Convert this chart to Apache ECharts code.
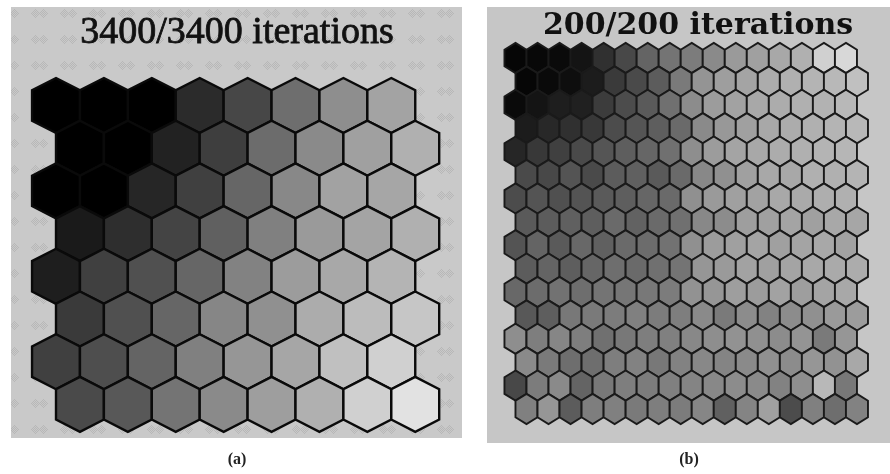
<!DOCTYPE html>
<html>
<head>
<meta charset="utf-8">
<script src="https://cdn.jsdelivr.net/npm/echarts@6/dist/echarts.min.js"></script>
<style>
  html, body { margin: 0; padding: 0; background: #ffffff; }
  #chart { width: 890px; height: 474px; }
</style>
</head>
<body>
<div id="chart"></div>
<script>
// Panel titles and captions
const titleA = '3400/3400 iterations';
const titleB = '200/200 iterations';
const captionA = '(a)';
const captionB = '(b)';

// Grey level of every map unit (0 = black, 255 = white), one list per map row, top row first.
// Odd rows sit half a unit to the right (hexagonal lattice).
const grayA = [
  [0, 0, 0, 43, 71, 110, 142, 163],
  [0, 0, 34, 62, 108, 138, 160, 176],
  [0, 0, 38, 64, 102, 136, 162, 166],
  [26, 46, 68, 96, 128, 154, 164, 176],
  [30, 64, 80, 102, 130, 156, 168, 180],
  [58, 80, 102, 134, 144, 172, 188, 198],
  [64, 78, 100, 128, 150, 166, 192, 208],
  [74, 88, 116, 138, 158, 176, 208, 226]
];

const grayB = [
  [6, 8, 10, 20, 48, 72, 100, 116, 124, 138, 154, 160, 168, 176, 208, 216],
  [6, 10, 14, 28, 58, 74, 92, 122, 148, 158, 164, 172, 176, 180, 184, 192],
  [10, 20, 30, 32, 60, 76, 90, 112, 140, 156, 162, 168, 172, 176, 178, 184],
  [28, 40, 48, 56, 76, 85, 94, 106, 138, 152, 160, 168, 172, 176, 180, 184],
  [38, 56, 64, 74, 85, 94, 102, 112, 142, 156, 164, 168, 172, 176, 180, 182],
  [74, 72, 84, 74, 92, 96, 90, 106, 136, 144, 160, 168, 168, 176, 176, 180],
  [76, 84, 80, 84, 90, 94, 102, 106, 144, 154, 160, 162, 168, 170, 174, 176],
  [90, 92, 96, 94, 106, 98, 106, 112, 136, 140, 158, 160, 164, 160, 168, 166],
  [84, 100, 90, 104, 96, 106, 108, 114, 144, 156, 160, 164, 160, 164, 168, 162],
  [92, 100, 94, 102, 110, 106, 112, 116, 150, 154, 162, 160, 164, 168, 170, 172],
  [104, 108, 114, 110, 116, 118, 120, 124, 146, 150, 158, 156, 162, 158, 164, 168],
  [88, 94, 120, 122, 124, 128, 124, 126, 138, 122, 140, 130, 140, 144, 154, 156],
  [142, 126, 134, 126, 112, 120, 126, 128, 136, 142, 146, 144, 140, 148, 122, 150],
  [138, 122, 110, 110, 126, 130, 120, 130, 136, 132, 138, 144, 140, 150, 146, 168],
  [72, 124, 138, 100, 120, 126, 124, 128, 132, 136, 140, 138, 130, 142, 184, 120],
  [128, 150, 92, 126, 128, 122, 126, 124, 134, 96, 132, 160, 76, 128, 110, 130]
];

// [x, row, grey] triples: odd rows offset by half a column
function toCells(rows) {
  const out = [];
  rows.forEach((row, r) => row.forEach((g, c) => out.push([c + (r % 2) * 0.5, r, g])));
  return out;
}

// Pointy-top hexagon centred on the unit, sized from the axis scale
function hexRenderer(stroke, lineWidth) {
  return function (params, api) {
    const p = api.coord([api.value(0), api.value(1)]);
    const s = api.size([1, 1]);
    const hw = s[0] / 2;
    const hh = s[1] * 0.644;
    const sh = s[1] * 0.356;
    const g = api.value(2);
    return {
      type: 'polygon',
      shape: {
        points: [
          [p[0], p[1] - hh], [p[0] + hw, p[1] - sh], [p[0] + hw, p[1] + sh],
          [p[0], p[1] + hh], [p[0] - hw, p[1] + sh], [p[0] - hw, p[1] - sh]
        ]
      },
      style: { fill: 'rgb(' + g + ',' + g + ',' + g + ')', stroke: stroke, lineWidth: lineWidth }
    };
  };
}

// Faint dotted-diamond texture for the left panel background
function makeTexture() {
  const c = document.createElement('canvas');
  c.width = 29; c.height = 26;
  const ctx = c.getContext('2d');
  ctx.fillStyle = '#c9c9c9';
  ctx.fillRect(0, 0, 29, 26);
  ctx.fillStyle = '#b7b7b7';
  [[6, 13], [14, 13]].forEach(([cx, cy]) => {
    for (let dy = -4; dy <= 4; dy++) {
      const span = 4 - Math.abs(dy);
      for (let dx = -span; dx <= span; dx++) {
        if ((dx + dy) % 2 === 0) ctx.fillRect(cx + dx, cy + dy, 1, 1);
      }
    }
  });
  return c;
}

const serif = '"Liberation Serif", "DejaVu Serif", serif';
const chart = echarts.init(document.getElementById('chart'), null, { renderer: 'canvas' });

chart.setOption({
  animation: false,
  backgroundColor: '#ffffff',
  title: [
    { text: titleA, left: 237, top: 14, textAlign: 'center', padding: 0,
      textStyle: { fontFamily: serif, fontSize: 38, fontWeight: 'normal', color: '#111',
        textBorderColor: '#111', textBorderWidth: 0.8 } },
    { text: titleB, left: 698, top: 11, textAlign: 'center', padding: 0,
      textStyle: { fontFamily: '"DejaVu Serif", serif', fontSize: 30, fontWeight: 'bold', color: '#111' } },
    { text: captionA, left: 237, top: 452, textAlign: 'center', padding: 0,
      textStyle: { fontFamily: serif, fontSize: 16, fontWeight: 'bold', color: '#222' } },
    { text: captionB, left: 689, top: 452, textAlign: 'center', padding: 0,
      textStyle: { fontFamily: serif, fontSize: 16, fontWeight: 'bold', color: '#222' } }
  ],
  graphic: [
    { type: 'rect', z: -10, shape: { x: 11, y: 7, width: 451, height: 431 },
      style: { fill: { image: makeTexture(), repeat: 'repeat' } } },
    { type: 'rect', z: -10, shape: { x: 487, y: 7, width: 403, height: 436 }, style: { fill: '#c6c6c6' } }
  ],
  grid: [
    { left: 8.1, top: 62.8, width: 479, height: 384.3 },
    { left: 493.45, top: 34.6, width: 415.8, height: 397.8 }
  ],
  xAxis: [
    { type: 'value', gridIndex: 0, min: -1, max: 9, show: false },
    { type: 'value', gridIndex: 1, min: -1, max: 17, show: false }
  ],
  yAxis: [
    { type: 'value', gridIndex: 0, min: -1, max: 8, inverse: true, show: false },
    { type: 'value', gridIndex: 1, min: -1, max: 16, inverse: true, show: false }
  ],
  series: [
    { type: 'custom', xAxisIndex: 0, yAxisIndex: 0, z: 5, clip: false,
      renderItem: hexRenderer('#0a0a0a', 2.4), data: toCells(grayA) },
    { type: 'custom', xAxisIndex: 1, yAxisIndex: 1, z: 5, clip: false,
      renderItem: hexRenderer('#1a1a1a', 1.9), data: toCells(grayB) }
  ]
});
</script>
</body>
</html>
